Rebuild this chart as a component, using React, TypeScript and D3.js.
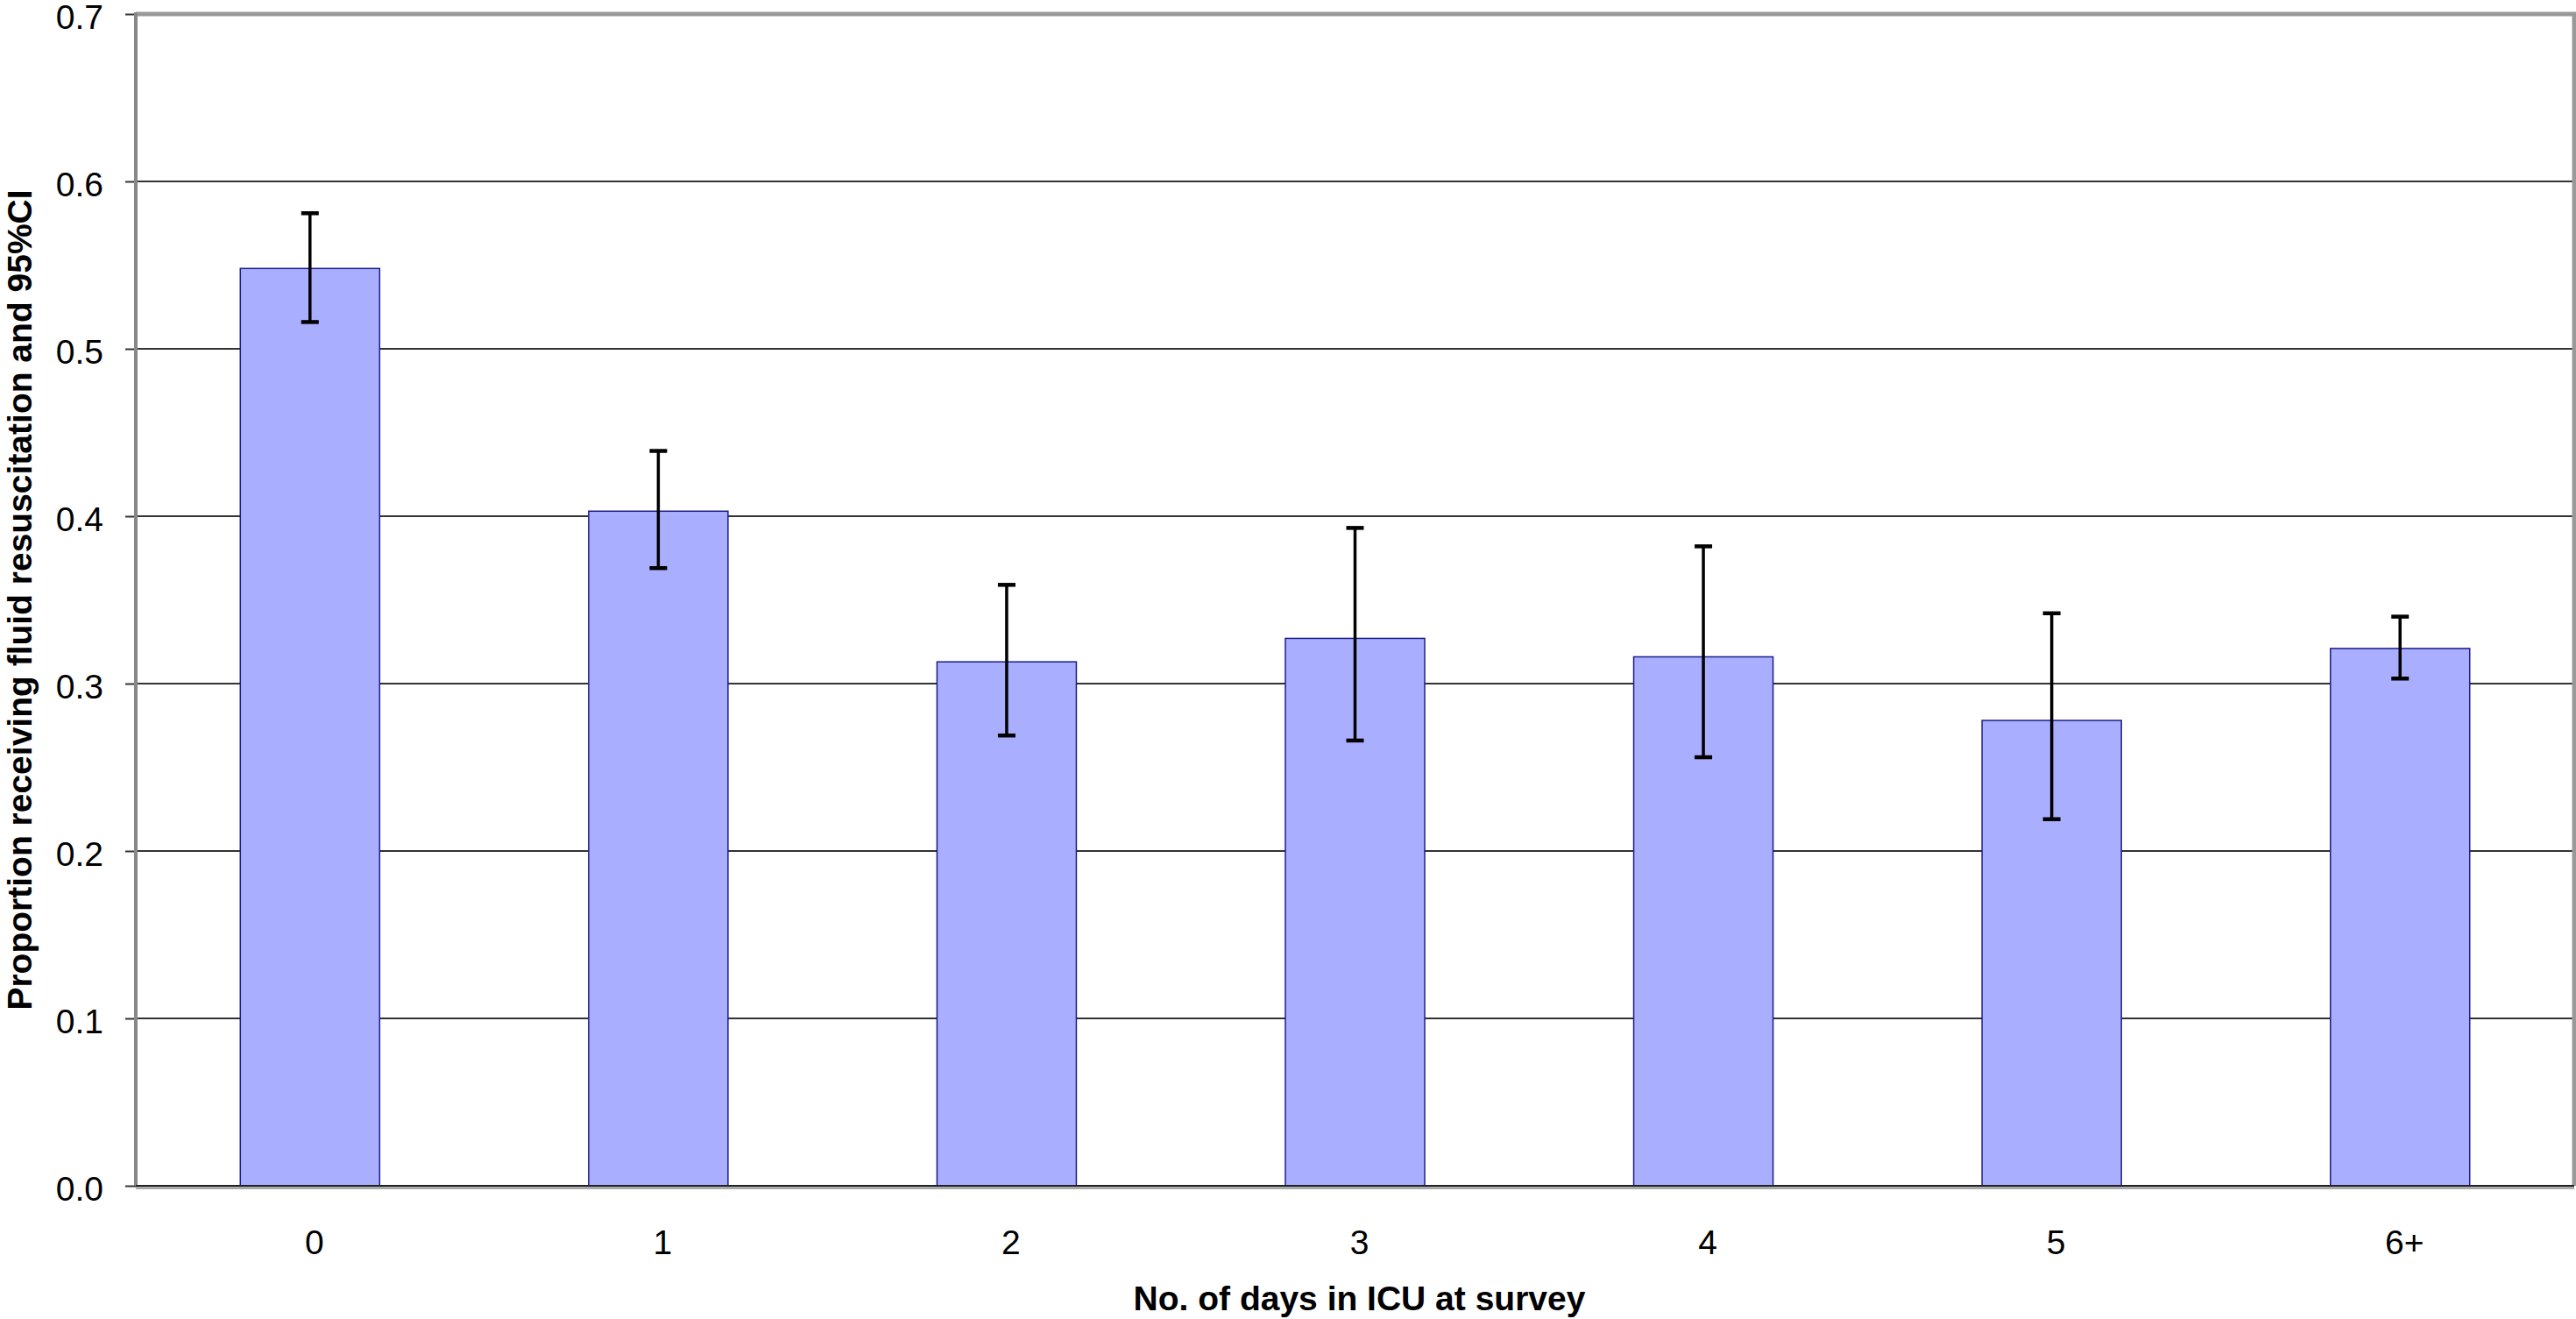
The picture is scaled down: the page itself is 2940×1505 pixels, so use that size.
import { useEffect, useRef } from 'react';
import * as d3 from 'd3';

const categories = ['0', '1', '2', '3', '4', '5', '6+'];
const proportions = [0.548, 0.403, 0.313, 0.327, 0.316, 0.278, 0.321];
const ciLower = [0.516, 0.369, 0.269, 0.266, 0.256, 0.219, 0.303];
const ciUpper = [0.581, 0.439, 0.359, 0.393, 0.382, 0.342, 0.340];
const yTicks = [0, 0.1, 0.2, 0.3, 0.4, 0.5, 0.6, 0.7];

const xTitle = 'No. of days in ICU at survey';
const yTitle = 'Proportion receiving fluid resuscitation and 95%CI';

export default function App() {
  const svgRef = useRef<SVGSVGElement>(null);

  useEffect(() => {
    if (!svgRef.current) return;
    document.body.style.margin = '0';
    document.body.style.overflow = 'hidden';

    const W = 2940;
    const H = 1505;
    const left = 155;
    const right = 2938;
    const top = 16;
    const bottom = 1353;
    const font = '"Liberation Sans", Arial, sans-serif';

    const svg = d3.select(svgRef.current);
    svg.selectAll('*').remove();

    svg.append('rect').attr('width', W).attr('height', H).attr('fill', '#fff');

    const x = d3.scaleBand<string>()
      .domain(categories)
      .range([left, right])
      .paddingInner(0.6)
      .paddingOuter(0.3);

    const y = d3.scaleLinear().domain([0, 0.7]).range([bottom, top]);

    const rows = categories.map((c, i) => ({
      cat: c,
      value: proportions[i],
      lo: ciLower[i],
      hi: ciUpper[i],
    }));

    // Grid lines
    svg.append('g')
      .selectAll('line')
      .data(yTicks.filter(t => t > 0 && t < 0.7))
      .enter()
      .append('line')
      .attr('x1', left)
      .attr('x2', right)
      .attr('y1', d => y(d))
      .attr('y2', d => y(d))
      .attr('stroke', '#333')
      .attr('stroke-width', 2);

    // Plot frame (top and right)
    svg.append('path')
      .attr('d', `M${left},${top} H${right} V${bottom}`)
      .attr('fill', 'none')
      .attr('stroke', '#999')
      .attr('stroke-width', 5);

    // Bars
    svg.append('g')
      .selectAll('rect')
      .data(rows)
      .enter()
      .append('rect')
      .attr('x', d => x(d.cat)!)
      .attr('y', d => y(d.value))
      .attr('width', x.bandwidth())
      .attr('height', d => y(0) - y(d.value))
      .attr('fill', '#AAAEFF')
      .attr('stroke', '#1c1c8a')
      .attr('stroke-width', 1.5);

    // Error bars
    const err = svg.append('g').attr('stroke', '#000').attr('stroke-width', 4.5);
    rows.forEach(d => {
      const cx = x(d.cat)! + x.bandwidth() / 2;
      err.append('line')
        .attr('x1', cx).attr('x2', cx)
        .attr('y1', y(d.hi)).attr('y2', y(d.lo))
        .attr('stroke-width', 3.5);
      [d.hi, d.lo].forEach(v => {
        err.append('line')
          .attr('x1', cx - 10).attr('x2', cx + 10)
          .attr('y1', y(v)).attr('y2', y(v));
      });
    });

    // Y axis
    const yAxis = svg.append('g')
      .attr('transform', `translate(${left},0)`)
      .call(d3.axisLeft(y).tickValues(yTicks).tickSize(12).tickPadding(25).tickFormat(d3.format('.1f')));
    yAxis.select('.domain').remove();
    yAxis.selectAll('line').attr('stroke', '#333').attr('stroke-width', 2);
    yAxis.selectAll('text')
      .attr('font-family', font)
      .attr('font-size', 39)
      .attr('fill', '#000')
      .attr('dy', '0.42em');

    svg.append('line')
      .attr('x1', left).attr('x2', left)
      .attr('y1', top - 2).attr('y2', bottom)
      .attr('stroke', '#888')
      .attr('stroke-width', 4);

    // X axis
    svg.append('line')
      .attr('x1', left).attr('x2', right)
      .attr('y1', bottom + 2).attr('y2', bottom + 2)
      .attr('stroke', '#aaa')
      .attr('stroke-width', 4);
    svg.append('line')
      .attr('x1', left).attr('x2', right)
      .attr('y1', bottom).attr('y2', bottom)
      .attr('stroke', '#222')
      .attr('stroke-width', 2);

    const xAxis = svg.append('g')
      .attr('transform', `translate(0,${bottom})`)
      .call(d3.axisBottom(x).tickSize(0).tickPadding(50));
    xAxis.select('.domain').remove();
    xAxis.selectAll('text')
      .attr('font-family', font)
      .attr('font-size', 39)
      .attr('fill', '#000')
      .attr('dx', 5);

    // Axis titles
    svg.append('text')
      .attr('x', (left + right) / 2 + 5)
      .attr('y', 1495)
      .attr('text-anchor', 'middle')
      .attr('font-family', font)
      .attr('font-weight', 'bold')
      .attr('font-size', 39)
      .text(xTitle);

    svg.append('text')
      .attr('transform', `translate(36,${(top + bottom) / 2}) rotate(-90)`)
      .attr('text-anchor', 'middle')
      .attr('font-family', font)
      .attr('font-weight', 'bold')
      .attr('font-size', 39)
      .text(yTitle);
  }, []);

  return <svg ref={svgRef} width={2940} height={1505} style={{ display: 'block' }} />;
}
